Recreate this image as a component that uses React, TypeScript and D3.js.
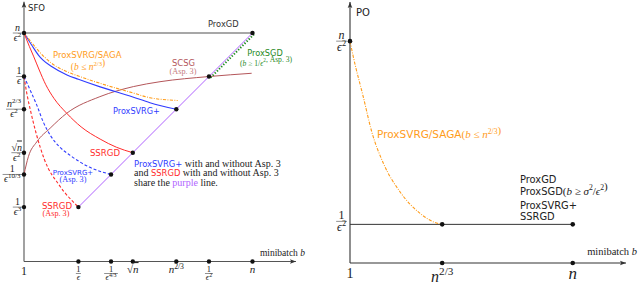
import * as d3 from "d3";

type Pt = [number, number];

const W = 640;
const H = 283;
const SANS = "'DejaVu Sans', sans-serif";
const SERIF = "'Liberation Serif', serif";

const C = {
  axis: "#555",
  gd: "#8a8a8a",
  purple: "#b063ff",
  blue: "#2f3bff",
  red: "#ff2b2b",
  orange: "#ff9c1a",
  brown: "#b4565a",
  brownLight: "#c47a7c",
  green: "#1f8a1f",
  dot: "#111",
  text: "#222",
};

// left panel: SFO vs minibatch b (schematic log units)
const leftXTicks = [0, 20, 32, 40, 56, 68, 84];
const leftXLabels = ["1", "1|ϵ", "1|ϵ^{4/3}", "√n", "n^{2/3}", "1|ϵ^2", "n"];
const leftYTicks = [84, 68, 56, 40, 32, 20];
const leftYLabels = ["n|ϵ^2", "1|ϵ", "n^{2/3}|ϵ^2", "√n|ϵ^2", "1|ϵ^{10/3}", "1|ϵ^3"];

const proxGD: Pt[] = [[0, 84], [84, 84]];
const sharedLine: Pt[] = [[20, 20], [84, 84]];
const proxSvrgSaga: Pt[] = [[0, 84], [2.8, 80.5], [5.3, 77.5], [10, 73], [15.8, 69.8], [20, 68.2], [28, 65.5], [40, 62], [46.3, 60.2], [56.5, 59.2]];
const proxSvrgPlus: Pt[] = [[0, 84], [2.8, 79.6], [5.3, 75.9], [7, 74], [10, 71.8], [15.8, 68.6], [20, 67], [28, 64.2], [40, 60.5], [46.3, 58.4], [56, 56]];
const ssrgd: Pt[] = [[0, 84], [2, 79], [3.5, 75.5], [5.6, 70.4], [8, 65], [11, 60], [15.7, 54.5], [21, 49.5], [28, 45], [34, 42], [40, 40]];
const ssrgdAsp3: Pt[] = [[0, 68], [1, 62], [2.5, 55], [4.5, 47], [7.5, 37.5], [13, 28], [20, 20]];
const proxSvrgPlusAsp3: Pt[] = [[0, 68], [2.5, 62.5], [4.7, 57.5], [7, 51.5], [9.6, 46.5], [13, 42.2], [17, 39], [24, 34.7], [32, 32]];
const scsg: Pt[] = [[0, 32], [1.6, 38.5], [4.7, 44], [9.6, 49], [15.7, 54.5], [27.9, 60.6], [40.2, 64.3], [50, 66.1], [68, 68], [83.7, 69.2]];
const proxSgd: Pt[] = [[68.6, 67.6], [84.8, 83.8]];
const leftPoints: Pt[] = [[20, 20], [32, 32], [40, 40], [56, 56], [68, 68], [84, 84]];

// right panel: PO vs minibatch b
const rightXTicks = [0, 33.4, 80.7];
const rightXLabels = ["1", "n^{2/3}", "n"];
const rightYTicks = [85, 14.8];
const rightYLabels = ["n|ϵ^2", "1|ϵ^2"];
const rightSaga: Pt[] = [[0, 85], [1.2, 79], [4.8, 63.7], [7.9, 50.2], [12.1, 38.2], [18.1, 27.3], [25.4, 19], [30.1, 15.8], [33.4, 14.8]];
const rightFlat: Pt[] = [[0, 14.8], [80.7, 14.8]];
const rightPoints: Pt[] = [[33.4, 14.8], [80.7, 14.8]];
const rightMethods = ["ProxGD", "ProxSGD", "ProxSVRG+", "SSRGD"];

const LET = /[a-zA-Zσϵ]/;

function mathSpans(s: string, size: number, key = "m") {
  const toks: { t: string; sup: boolean }[] = [];
  let buf = "";
  let i = 0;
  while (i < s.length) {
    if (s[i] === "^") {
      if (buf) { toks.push({ t: buf, sup: false }); buf = ""; }
      if (s[i + 1] === "{") {
        const j = s.indexOf("}", i);
        toks.push({ t: s.slice(i + 2, j), sup: true });
        i = j + 1;
      } else {
        toks.push({ t: s[i + 1], sup: true });
        i += 2;
      }
    } else {
      buf += s[i];
      i++;
    }
  }
  if (buf) toks.push({ t: buf, sup: false });

  const shift = size * 0.4;
  let level = 0;
  const out: any[] = [];
  let k = 0;
  toks.forEach((tok) => {
    const target = tok.sup ? -shift : 0;
    let dy = target - level;
    level = target;
    const parts = tok.t.match(/[a-zA-Zσϵ]+|[^a-zA-Zσϵ]+/g) || [];
    let prev = "";
    parts.forEach((p) => {
      const italic = LET.test(p);
      const over = italic && prev.endsWith("√");
      out.push(
        <tspan
          key={key + k++}
          dy={dy || undefined}
          fontSize={tok.sup ? size * 0.7 : size}
          fontStyle={italic ? "italic" : "normal"}
          style={over ? { textDecoration: "overline" } : undefined}
        >
          {p}
        </tspan>
      );
      dy = 0;
      prev = p;
    });
  });
  return out;
}

function emWidth(s: string) {
  let w = 0;
  let sup = false;
  let braces = false;
  for (let i = 0; i < s.length; i++) {
    const c = s[i];
    if (c === "^") { sup = true; braces = s[i + 1] === "{"; continue; }
    if (c === "{") continue;
    if (c === "}") { sup = false; continue; }
    w += sup ? 0.34 : 0.48;
    if (sup && !braces) sup = false;
  }
  return w;
}

function Frac({ x, y, s, size, align = "middle", fill = C.text }: { x: number; y: number; s: string; size: number; align?: string; fill?: string }) {
  const [num, den] = s.split("|");
  const w = Math.max(emWidth(num), emWidth(den)) * size + 1;
  const cx = align === "end" ? x - w / 2 : x;
  return (
    <g fontFamily={SERIF} fill={fill}>
      <text x={cx} y={y - size * 0.22} textAnchor="middle" fontSize={size}>{mathSpans(num, size, "n")}</text>
      <line x1={cx - w / 2} x2={cx + w / 2} y1={y} y2={y} stroke={fill} strokeWidth={0.5} />
      <text x={cx} y={y + size * 0.78} textAnchor="middle" fontSize={size}>{mathSpans(den, size, "d")}</text>
    </g>
  );
}

function Label({ x, y, s, size }: { x: number; y: number; s: string; size: number }) {
  if (s.includes("|")) return <Frac x={x} y={y} s={s} size={size} />;
  return (
    <text x={x} y={y} textAnchor="middle" fontFamily={SERIF} fontSize={size} fill={C.text}>
      {mathSpans(s, size)}
    </text>
  );
}

function Arrow({ x, y, dir }: { x: number; y: number; dir: "up" | "right" }) {
  const d = dir === "up"
    ? `M${x},${y} L${x - 2.3},${y + 6} L${x},${y + 4.8} L${x + 2.3},${y + 6} Z`
    : `M${x},${y} L${x - 6},${y - 2.3} L${x - 4.8},${y} L${x - 6},${y + 2.3} Z`;
  return <path d={d} fill="#333" />;
}

export default function App() {
  const x = d3.scaleLinear().domain([0, 100]).range([24, 296]);
  const y = d3.scaleLinear().domain([0, 100]).range([261.5, -10.5]);
  const rx = d3.scaleLinear().domain([0, 100]).range([350, 626]);
  const ry = d3.scaleLinear().domain([0, 100]).range([263, 2]);

  const line = d3.line<Pt>().x((d) => x(d[0])).y((d) => y(d[1])).curve(d3.curveMonotoneX);
  const lineR = d3.line<Pt>().x((d) => rx(d[0])).y((d) => ry(d[1])).curve(d3.curveMonotoneX);

  const dash = "3 2";
  const dashDot = "3.2 1.4 0.9 1.4";

  return (
    <svg width={W} height={H} style={{ position: "absolute", left: 0, top: 0, background: "#fff" }}>
      {/* ---------- left panel ---------- */}
      <line x1={x(0)} x2={x(100)} y1={y(0)} y2={y(0)} stroke={C.axis} strokeWidth={1.1} />
      <line x1={x(0)} x2={x(0)} y1={y(0)} y2={y(95.5)} stroke={C.axis} strokeWidth={1.1} />
      <Arrow x={x(100)} y={y(0)} dir="right" />
      <Arrow x={x(0)} y={y(95.5)} dir="up" />

      <path d={line(proxGD)!} fill="none" stroke={C.gd} strokeWidth={1.3} />
      <path d={line(scsg)!} fill="none" stroke={C.brown} strokeWidth={1} />
      <path d={line(proxSvrgPlus)!} fill="none" stroke={C.blue} strokeWidth={1.1} />
      <path d={line(proxSvrgSaga)!} fill="none" stroke={C.orange} strokeWidth={1.1} strokeDasharray={dashDot} />
      <path d={line(ssrgd)!} fill="none" stroke={C.red} strokeWidth={1} />
      <path d={line(ssrgdAsp3)!} fill="none" stroke={C.red} strokeWidth={1.1} strokeDasharray={dash} />
      <path d={line(proxSvrgPlusAsp3)!} fill="none" stroke={C.blue} strokeWidth={1.1} strokeDasharray={dash} />
      <path d={line(sharedLine)!} fill="none" stroke={C.purple} strokeWidth={1} />
      <path d={line(proxSgd)!} fill="none" stroke={C.green} strokeWidth={2} strokeDasharray="1.3 1.7" />

      {leftPoints.map((d, i) => (
        <circle key={"lp" + i} cx={x(d[0])} cy={y(d[1])} r={2.2} fill={C.dot} />
      ))}
      {leftXTicks.slice(1).map((v, i) => (
        <circle key={"lx" + i} cx={x(v)} cy={y(0)} r={2.2} fill={C.dot} />
      ))}
      {leftYTicks.map((v, i) => (
        <circle key={"ly" + i} cx={x(0)} cy={y(v)} r={2.2} fill={C.dot} />
      ))}

      {leftXTicks.map((v, i) => {
        const s = leftXLabels[i];
        if (s.includes("|")) return <Frac key={"xl" + i} x={x(v)} y={273.5} s={s} size={8.5} />;
        return <Label key={"xl" + i} x={x(v)} y={v === 0 ? 274.5 : 273} s={s} size={v === 0 ? 12 : 11} />;
      })}
      {leftYTicks.map((v, i) => (
        <Frac key={"yl" + i} x={22} y={y(v)} s={leftYLabels[i]} size={10} align="end" />
      ))}

      <text x={28} y={11} fontFamily={SANS} fontSize={8.5} fill={C.text}>SFO</text>
      <text x={305} y={256} textAnchor="end" fontFamily={SERIF} fontSize={9.5} fill={C.text}>
        minibatch <tspan fontStyle="italic">b</tspan>
      </text>

      <text x={208} y={27} fontFamily={SANS} fontSize={8.3} fill="#333">ProxGD</text>

      <text x={53} y={58} fontFamily={SANS} fontSize={8.5} fill={C.orange}>ProxSVRG/SAGA</text>
      <text x={88} y={69.5} textAnchor="middle" fontFamily={SERIF} fontSize={9.5} fill={C.orange}>
        ({mathSpans("b ≤ n^{2/3}", 9.5)})
      </text>

      <text x={113} y={113.5} fontFamily={SANS} fontSize={8.1} fill={C.blue}>ProxSVRG+</text>

      <text x={183.5} y={65.5} textAnchor="middle" fontFamily={SANS} fontSize={8.4} fill={C.brown}>SCSG</text>
      <text x={183} y={74} textAnchor="middle" fontFamily={SERIF} fontSize={8.2} fill={C.brownLight}>(Asp. 3)</text>

      <text x={265} y={56} textAnchor="middle" fontFamily={SANS} fontSize={8.2} fill={C.green}>ProxSGD</text>
      <text x={266} y={65.5} textAnchor="middle" fontFamily={SERIF} fontSize={7.6} fill={C.green}>
        ({mathSpans("b ≥ 1/ϵ^2", 7.6)}, Asp. 3)
      </text>

      <text x={105} y={156} textAnchor="middle" fontFamily={SANS} fontSize={8.6} fill={C.red}>SSRGD</text>

      <text x={73} y={174.5} textAnchor="middle" fontFamily={SANS} fontSize={7} fill={C.blue}>ProxSVRG+</text>
      <text x={73} y={182} textAnchor="middle" fontFamily={SERIF} fontSize={8.2} fill={C.blue}>(Asp. 3)</text>

      <text x={57} y={208.5} textAnchor="middle" fontFamily={SANS} fontSize={8.6} fill={C.red}>SSRGD</text>
      <text x={56} y={216} textAnchor="middle" fontFamily={SERIF} fontSize={8.2} fill={C.red}>(Asp. 3)</text>

      <g fontFamily={SERIF} fontSize={10} fill={C.text}>
        <text x={134} y={166.5}>
          <tspan fontFamily={SANS} fontSize={8.4} fill={C.blue}>ProxSVRG+</tspan>
          {" with and without Asp. 3"}
        </text>
        <text x={134} y={176}>
          {"and "}
          <tspan fontFamily={SANS} fontSize={8.4} fill={C.red}>SSRGD</tspan>
          {" with and without Asp. 3"}
        </text>
        <text x={134} y={185.5}>
          {"share the "}
          <tspan fill={C.purple}>purple</tspan>
          {" line."}
        </text>
      </g>

      {/* ---------- right panel ---------- */}
      <line x1={rx(0)} x2={rx(100)} y1={ry(0)} y2={ry(0)} stroke="#333" strokeWidth={1.1} />
      <line x1={rx(0)} x2={rx(0)} y1={ry(0)} y2={ry(100)} stroke="#333" strokeWidth={1.1} />
      <Arrow x={rx(100)} y={ry(0)} dir="right" />
      <Arrow x={rx(0)} y={ry(100)} dir="up" />

      <path d={lineR(rightFlat)!} fill="none" stroke="#333" strokeWidth={1} />
      <path d={lineR(rightSaga)!} fill="none" stroke={C.orange} strokeWidth={1.1} strokeDasharray={dashDot} />

      {rightPoints.map((d, i) => (
        <circle key={"rp" + i} cx={rx(d[0])} cy={ry(d[1])} r={2.3} fill={C.dot} />
      ))}
      {rightXTicks.slice(1).map((v, i) => (
        <circle key={"rx" + i} cx={rx(v)} cy={ry(0)} r={2.3} fill={C.dot} />
      ))}
      <circle cx={rx(0)} cy={ry(rightYTicks[0])} r={2.3} fill={C.dot} />

      {rightXTicks.map((v, i) => (
        <Label key={"rxl" + i} x={rx(v)} y={[278, 281.5, 278.5][i]} s={rightXLabels[i]} size={[14, 16, 17][i]} />
      ))}
      {rightYTicks.map((v, i) => (
        <Frac key={"ryl" + i} x={347} y={ry(v) - (i === 1 ? 3 : 0)} s={rightYLabels[i]} size={12} align="end" />
      ))}

      <text x={356} y={15.5} fontFamily={SANS} fontSize={10} fill={C.text}>PO</text>
      <text x={637} y={255} textAnchor="end" fontFamily={SERIF} fontSize={10.5} fill={C.text}>
        minibatch <tspan fontStyle="italic">b</tspan>
      </text>

      <text x={377} y={138} fontFamily={SANS} fontSize={10.5} fill={C.orange}>
        ProxSVRG/SAGA
        <tspan fontFamily={SERIF} fontSize={11}>({mathSpans("b ≤ n^{2/3}", 11)})</tspan>
      </text>

      {rightMethods.map((m, i) => (
        <text key={"rm" + i} x={520} y={[183, 194.5, 208.5, 220][i]} fontFamily={SANS} fontSize={9.9} fill={C.text}>
          {m}
          {m === "ProxSGD" ? (
            <tspan fontFamily={SERIF} fontSize={11}>({mathSpans("b ≥ σ^2/ϵ^2", 11)})</tspan>
          ) : null}
        </text>
      ))}
    </svg>
  );
}
